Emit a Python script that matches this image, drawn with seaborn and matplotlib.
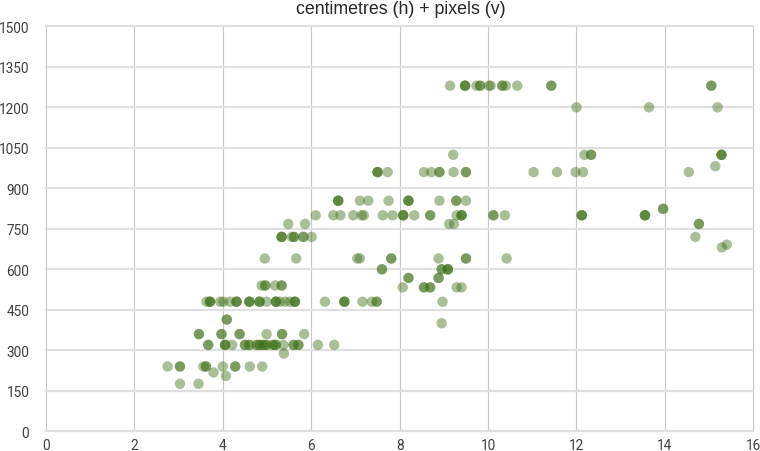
import matplotlib
matplotlib.use("Agg")
import matplotlib.pyplot as plt
import seaborn as sns
import pandas as pd

# Screen heights in pixels (vertical) and the widths in centimetres (horizontal)
heights_px = [1280, 1200, 1024, 982, 960, 854, 824, 800, 768, 720, 691, 681,
              640, 600, 568, 540, 533, 480, 414, 400, 360, 320, 288, 240,
              218, 205, 176]

widths_cm = [
    [9.14, 9.48, 9.48, 9.48, 9.74, 9.82, 9.82, 10.02, 10.06, 10.32, 10.32, 10.40, 10.66, 11.43, 11.43, 15.05, 15.05],
    [12.0, 13.64, 15.19],
    [9.21, 12.18, 12.33, 12.33, 15.28, 15.28, 15.28],
    [15.14],
    [7.50, 7.50, 7.50, 7.73, 8.55, 8.72, 8.90, 8.90, 9.22, 9.50, 9.50, 11.03, 11.56, 11.98, 12.15, 14.54],
    [6.61, 6.61, 6.61, 7.10, 7.29, 7.75, 8.20, 8.20, 8.20, 8.90, 9.28, 9.28, 9.50],
    [13.96, 13.96],
    [6.10, 6.50, 6.66, 6.95, 7.14, 7.19, 7.62, 7.84, 8.08, 8.08, 8.08, 8.33, 8.69, 8.69, 9.29, 9.40, 9.40, 9.40,
     10.12, 10.12, 10.38, 12.12, 12.12, 12.12, 13.55, 13.55, 13.55],
    [5.48, 5.86, 9.12, 9.23, 14.77, 14.77],
    [5.33, 5.33, 5.33, 5.56, 5.61, 5.61, 5.82, 5.82, 6.01, 14.69],
    [15.40],
    [15.29],
    [4.95, 5.66, 7.04, 7.10, 7.81, 7.81, 8.88, 9.50, 9.50, 10.42],
    [7.60, 7.60, 8.95, 8.95, 9.09, 9.09, 9.09],
    [8.20, 8.20, 8.88, 8.88],
    [4.88, 4.96, 4.96, 5.18, 5.33, 5.33],
    [8.07, 8.55, 8.55, 8.69, 8.69, 9.29, 9.40],
    [3.63, 3.71, 3.71, 3.71, 3.94, 4.01, 4.16, 4.31, 4.31, 4.31, 4.60, 4.60, 4.60, 4.83, 4.83, 4.83,
     4.99, 5.20, 5.20, 5.20, 5.29, 5.41, 5.52, 5.63, 5.63, 5.63, 6.31, 6.75, 6.75, 6.75, 7.16, 7.37,
     7.48, 7.48, 8.97],
    [4.09, 4.09],
    [8.95],
    [3.46, 3.46, 3.97, 3.97, 4.38, 4.38, 4.99, 5.34, 5.34, 5.84],
    [3.67, 3.67, 4.05, 4.05, 4.05, 4.21, 4.50, 4.50, 4.60, 4.60, 4.77, 4.77, 4.84, 4.84, 4.92, 4.92,
     4.99, 4.99, 5.14, 5.14, 5.20, 5.20, 5.37, 5.60, 5.60, 5.71, 5.71, 6.15, 6.52],
    [5.38],
    [2.75, 3.03, 3.03, 3.56, 3.62, 3.62, 4.00, 4.28, 4.28, 4.61, 4.89],
    [3.79],
    [4.07],
    [3.03, 3.45],
]

x_ticks = [0, 2, 4, 6, 8, 10, 12, 14, 16]
y_ticks = [0, 150, 300, 450, 600, 750, 900, 1050, 1200, 1350, 1500]
title = "centimetres (h) + pixels (v)"

rows = []
for h, ws in zip(heights_px, widths_cm):
    for w in ws:
        rows.append({"cm": w, "px": h})
df = pd.DataFrame(rows)

sns.set_theme(style="white")
plt.rcParams["font.family"] = ["Roboto", "DejaVu Sans"]

fig = plt.figure(figsize=(7.6, 4.52), dpi=100)
ax = fig.add_axes([46 / 760, 1 - 432.3 / 452, (753.3 - 46) / 760, (432.3 - 27.3) / 452])

sns.scatterplot(data=df, x="cm", y="px", ax=ax, color="#40721a", alpha=0.45,
                s=56, linewidth=0, edgecolor="none", zorder=3)

ax.set_xlim(0, 16)
ax.set_ylim(0, 1500)
ax.set_xticks(x_ticks)
ax.set_yticks(y_ticks)
ax.set_xticklabels([str(t) for t in x_ticks])
ax.set_yticklabels([str(t) for t in y_ticks])
ax.set_xlabel("")
ax.set_ylabel("")

for sp in ax.spines.values():
    sp.set_visible(False)

ax.xaxis.grid(True, color="#c8c8c8", linewidth=0.8, zorder=0)
ax.yaxis.grid(True, color="#e0e0e0", linewidth=1.6, zorder=0)
ax.set_axisbelow(True)
for gl in ax.get_xgridlines() + ax.get_ygridlines():
    gl.set_clip_on(False)

ax.tick_params(axis="both", length=0, labelsize=9.8, colors="#404040")
ax.tick_params(axis="y", pad=12)
ax.tick_params(axis="x", pad=5)

fig.text(401 / 760, 1 - 10 / 452, title, ha="center", va="center",
         fontsize=12.8, color="#262626", family=["Liberation Sans", "DejaVu Sans"])

fig.savefig("out.png", dpi=100)
